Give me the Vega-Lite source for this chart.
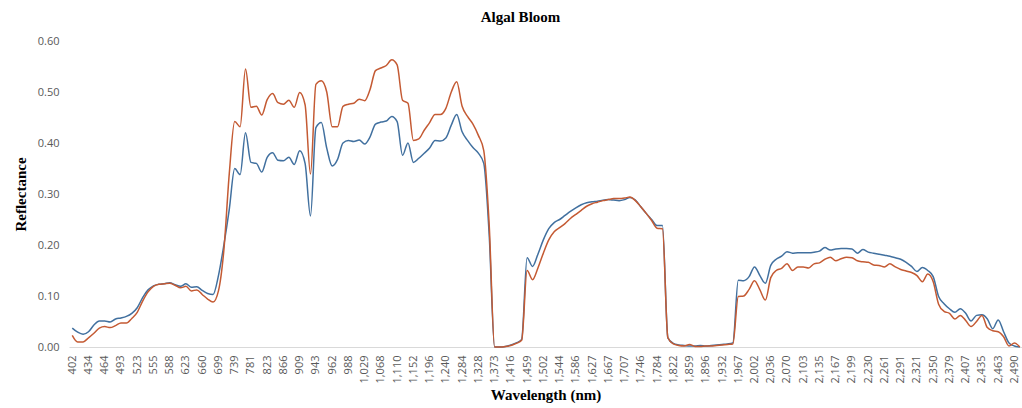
{
  "$schema": "https://vega.github.io/schema/vega-lite/v6.json",
  "width": 953,
  "height": 306,
  "autosize": {"type": "none"},
  "padding": {"left": 69, "top": 41, "right": 0, "bottom": 61},
  "background": "white",
  "title": {
    "text": "Algal Bloom",
    "font": "Liberation Serif",
    "fontSize": 15,
    "fontWeight": "bold",
    "color": "#000000",
    "offset": 10,
    "dx": -25
  },
  "config": {
    "view": {"stroke": null},
    "axis": {
      "labelFont": "Open Sans",
      "labelFontSize": 11,
      "labelColor": "#595959",
      "titleFont": "Liberation Serif",
      "titleFontSize": 15,
      "titleFontWeight": "bold",
      "titleColor": "#000000",
      "grid": false,
      "ticks": false
    }
  },
  "data": {
    "values": [
      {"i":0,"a":0.037,"b":0.023},{"i":1,"a":0.029,"b":0.010},{"i":2,"a":0.025,"b":0.010},{"i":3,"a":0.030,"b":0.018},
      {"i":4,"a":0.043,"b":0.027},{"i":5,"a":0.051,"b":0.037},{"i":6,"a":0.051,"b":0.040},{"i":7,"a":0.049,"b":0.038},
      {"i":8,"a":0.055,"b":0.042},{"i":9,"a":0.057,"b":0.047},{"i":10,"a":0.060,"b":0.047},{"i":11,"a":0.066,"b":0.056},
      {"i":12,"a":0.077,"b":0.068},{"i":13,"a":0.097,"b":0.090},{"i":14,"a":0.112,"b":0.108},{"i":15,"a":0.120,"b":0.119},
      {"i":16,"a":0.123,"b":0.123},{"i":17,"a":0.124,"b":0.124},{"i":18,"a":0.126,"b":0.125},{"i":19,"a":0.122,"b":0.121},
      {"i":20,"a":0.119,"b":0.116},{"i":21,"a":0.124,"b":0.119},{"i":22,"a":0.117,"b":0.110},{"i":23,"a":0.118,"b":0.112},
      {"i":24,"a":0.111,"b":0.103},{"i":25,"a":0.105,"b":0.094},{"i":26,"a":0.103,"b":0.088},{"i":27,"a":0.140,"b":0.110},
      {"i":28,"a":0.200,"b":0.190},{"i":29,"a":0.270,"b":0.340},{"i":30,"a":0.350,"b":0.442},{"i":31,"a":0.338,"b":0.432},
      {"i":32,"a":0.420,"b":0.545},{"i":33,"a":0.362,"b":0.470},{"i":34,"a":0.360,"b":0.472},{"i":35,"a":0.343,"b":0.455},
      {"i":36,"a":0.372,"b":0.485},{"i":37,"a":0.381,"b":0.497},{"i":38,"a":0.366,"b":0.479},{"i":39,"a":0.365,"b":0.476},
      {"i":40,"a":0.372,"b":0.484},{"i":41,"a":0.358,"b":0.470},{"i":42,"a":0.385,"b":0.499},{"i":43,"a":0.360,"b":0.475},
      {"i":44,"a":0.257,"b":0.339},{"i":45,"a":0.430,"b":0.515},{"i":46,"a":0.440,"b":0.522},{"i":47,"a":0.390,"b":0.500},
      {"i":48,"a":0.355,"b":0.432},{"i":49,"a":0.368,"b":0.432},{"i":50,"a":0.400,"b":0.472},{"i":51,"a":0.405,"b":0.476},
      {"i":52,"a":0.403,"b":0.478},{"i":53,"a":0.406,"b":0.486},{"i":54,"a":0.398,"b":0.483},{"i":55,"a":0.412,"b":0.505},
      {"i":56,"a":0.437,"b":0.542},{"i":57,"a":0.441,"b":0.547},{"i":58,"a":0.443,"b":0.552},{"i":59,"a":0.452,"b":0.563},
      {"i":60,"a":0.442,"b":0.553},{"i":61,"a":0.376,"b":0.484},{"i":62,"a":0.400,"b":0.478},{"i":63,"a":0.362,"b":0.405},
      {"i":64,"a":0.370,"b":0.408},{"i":65,"a":0.380,"b":0.425},{"i":66,"a":0.390,"b":0.440},{"i":67,"a":0.405,"b":0.456},
      {"i":68,"a":0.404,"b":0.456},{"i":69,"a":0.410,"b":0.468},{"i":70,"a":0.435,"b":0.500},{"i":71,"a":0.456,"b":0.520},
      {"i":72,"a":0.422,"b":0.472},{"i":73,"a":0.405,"b":0.452},{"i":74,"a":0.391,"b":0.437},{"i":75,"a":0.380,"b":0.415},
      {"i":76,"a":0.360,"b":0.385},{"i":77,"a":0.220,"b":0.240},{"i":78,"a":0.000,"b":0.000},{"i":79,"a":0.000,"b":0.000},
      {"i":80,"a":0.001,"b":0.001},{"i":81,"a":0.004,"b":0.003},{"i":82,"a":0.008,"b":0.007},{"i":83,"a":0.015,"b":0.013},
      {"i":84,"a":0.175,"b":0.150},{"i":85,"a":0.158,"b":0.132},{"i":86,"a":0.182,"b":0.155},{"i":87,"a":0.210,"b":0.184},
      {"i":88,"a":0.232,"b":0.210},{"i":89,"a":0.244,"b":0.226},{"i":90,"a":0.250,"b":0.234},{"i":91,"a":0.258,"b":0.242},
      {"i":92,"a":0.266,"b":0.252},{"i":93,"a":0.273,"b":0.260},{"i":94,"a":0.279,"b":0.268},{"i":95,"a":0.283,"b":0.276},
      {"i":96,"a":0.285,"b":0.281},{"i":97,"a":0.286,"b":0.284},{"i":98,"a":0.288,"b":0.287},{"i":99,"a":0.289,"b":0.289},
      {"i":100,"a":0.288,"b":0.291},{"i":101,"a":0.287,"b":0.291},{"i":102,"a":0.289,"b":0.292},{"i":103,"a":0.293,"b":0.294},
      {"i":104,"a":0.288,"b":0.287},{"i":105,"a":0.275,"b":0.275},{"i":106,"a":0.262,"b":0.262},{"i":107,"a":0.250,"b":0.248},
      {"i":108,"a":0.238,"b":0.233},{"i":109,"a":0.238,"b":0.232},{"i":110,"a":0.018,"b":0.018},{"i":111,"a":0.007,"b":0.006},
      {"i":112,"a":0.004,"b":0.003},{"i":113,"a":0.003,"b":0.002},{"i":114,"a":0.002,"b":0.005},{"i":115,"a":0.002,"b":0.001},
      {"i":116,"a":0.003,"b":0.001},{"i":117,"a":0.002,"b":0.002},{"i":118,"a":0.003,"b":0.002},{"i":119,"a":0.004,"b":0.003},
      {"i":120,"a":0.005,"b":0.004},{"i":121,"a":0.006,"b":0.005},{"i":122,"a":0.008,"b":0.006},{"i":123,"a":0.131,"b":0.099},
      {"i":124,"a":0.130,"b":0.100},{"i":125,"a":0.138,"b":0.113},{"i":126,"a":0.157,"b":0.130},{"i":127,"a":0.140,"b":0.112},
      {"i":128,"a":0.125,"b":0.092},{"i":129,"a":0.160,"b":0.136},{"i":130,"a":0.172,"b":0.150},{"i":131,"a":0.178,"b":0.154},
      {"i":132,"a":0.187,"b":0.163},{"i":133,"a":0.184,"b":0.150},{"i":134,"a":0.185,"b":0.157},{"i":135,"a":0.185,"b":0.157},
      {"i":136,"a":0.185,"b":0.155},{"i":137,"a":0.186,"b":0.163},{"i":138,"a":0.188,"b":0.165},{"i":139,"a":0.195,"b":0.172},
      {"i":140,"a":0.190,"b":0.176},{"i":141,"a":0.192,"b":0.169},{"i":142,"a":0.193,"b":0.173},{"i":143,"a":0.193,"b":0.176},
      {"i":144,"a":0.192,"b":0.175},{"i":145,"a":0.184,"b":0.169},{"i":146,"a":0.191,"b":0.167},{"i":147,"a":0.186,"b":0.166},
      {"i":148,"a":0.184,"b":0.161},{"i":149,"a":0.182,"b":0.160},{"i":150,"a":0.180,"b":0.157},{"i":151,"a":0.178,"b":0.163},
      {"i":152,"a":0.175,"b":0.157},{"i":153,"a":0.172,"b":0.152},{"i":154,"a":0.166,"b":0.149},{"i":155,"a":0.158,"b":0.146},
      {"i":156,"a":0.148,"b":0.140},{"i":157,"a":0.156,"b":0.128},{"i":158,"a":0.150,"b":0.143},{"i":159,"a":0.138,"b":0.128},
      {"i":160,"a":0.099,"b":0.084},{"i":161,"a":0.085,"b":0.070},{"i":162,"a":0.075,"b":0.066},{"i":163,"a":0.068,"b":0.055},
      {"i":164,"a":0.075,"b":0.062},{"i":165,"a":0.066,"b":0.052},{"i":166,"a":0.051,"b":0.040},{"i":167,"a":0.062,"b":0.050},
      {"i":168,"a":0.063,"b":0.062},{"i":169,"a":0.055,"b":0.038},{"i":170,"a":0.036,"b":0.032},{"i":171,"a":0.053,"b":0.030},
      {"i":172,"a":0.030,"b":0.020},{"i":173,"a":0.008,"b":0.002},{"i":174,"a":0.002,"b":0.008},{"i":175,"a":0.000,"b":0.000}
    ]
  },
  "encoding": {
    "x": {
      "field": "i",
      "type": "quantitative",
      "scale": {"domain": [-0.6, 175.4], "nice": false, "zero": false},
      "axis": {
        "title": "Wavelength (nm)",
        "titlePadding": 4,
        "values": [0,3,6,9,12,15,18,21,24,27,30,33,36,39,42,45,48,51,54,57,60,63,66,69,72,75,78,81,84,87,90,93,96,99,102,105,108,111,114,117,120,123,126,129,132,135,138,141,144,147,150,153,156,159,162,165,168,171,174],
        "labelExpr": "['402','434','464','493','523','555','588','623','660','699','739','781','823','866','909','943','962','988','1,029','1,068','1,110','1,152','1,196','1,240','1,284','1,328','1,373','1,416','1,459','1,502','1,544','1,586','1,627','1,667','1,707','1,746','1,784','1,822','1,859','1,896','1,932','1,967','2,002','2,036','2,070','2,103','2,135','2,167','2,199','2,230','2,261','2,291','2,321','2,350','2,379','2,407','2,435','2,463','2,490'][round(datum.value / 3)]",
        "labelAngle": -90,
        "labelPadding": 8,
        "labelOverlap": false,
        "labelFlush": false,
        "domainColor": "#d9d9d9",
        "domainWidth": 1
      }
    }
  },
  "layer": [
    {
      "mark": {"type": "line", "color": "#41709F", "strokeWidth": 1.5, "interpolate": "monotone"},
      "encoding": {
        "y": {
          "field": "a",
          "type": "quantitative",
          "scale": {"domain": [0, 0.6], "nice": false},
          "axis": {
            "title": "Reflectance",
            "titlePadding": 9,
            "values": [0, 0.1, 0.2, 0.3, 0.4, 0.5, 0.6],
            "format": ".2f",
            "labelPadding": 10,
            "domain": false
          }
        }
      }
    },
    {
      "mark": {"type": "line", "color": "#C45A33", "strokeWidth": 1.5, "interpolate": "monotone"},
      "encoding": {
        "y": {"field": "b", "type": "quantitative"}
      }
    }
  ]
}
